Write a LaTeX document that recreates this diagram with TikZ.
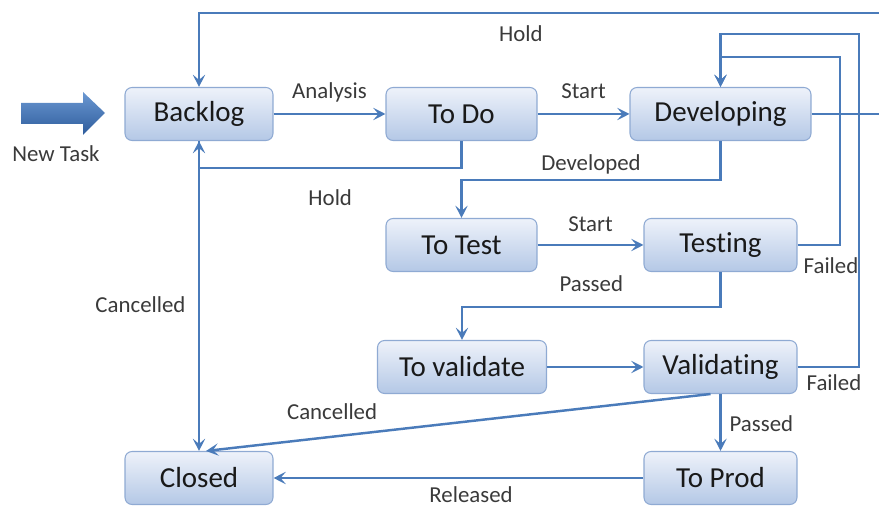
\documentclass[tikz,border=0pt]{standalone}
\usepackage{fontspec}
\setmainfont{Carlito}[Ligatures=NoCommon]
\usetikzlibrary{calc,positioning,arrows.meta}
\definecolor{flowcolor}{HTML}{4A7BBA}
\definecolor{boxtop}{HTML}{EEF2FA}
\definecolor{boxbottom}{HTML}{B4C8E6}
\definecolor{boxborder}{HTML}{8FAAD3}
\definecolor{labelcolor}{HTML}{3A3A3A}
\definecolor{arrowtop}{HTML}{6B98D2}
\definecolor{arrowbottom}{HTML}{2E5C9C}

\begin{document}
\begin{tikzpicture}[x=0.02cm, y=-0.02cm,
    state/.style={draw=boxborder, line width=0.6pt, rounded corners=4pt,
        top color=boxtop, bottom color=boxbottom, minimum height=1.06cm,
        font=\fontsize{16.5}{18}\selectfont, text=black!90},
    flow/.style={line width=1.4pt, color=flowcolor,
        -{Stealth[length=7pt, width=7pt, inset=3pt]}},
    lbl/.style={font=\fontsize{13}{15}\selectfont, text=labelcolor,
        inner sep=0pt, text height=9.5pt, text depth=3pt}]
    \useasboundingbox (0,0) rectangle (879,506);

    % States
    \foreach \nm/\px/\py/\w/\txt in {backlog/199/114/2.96/Backlog,
        todo/461.5/114/3.02/To Do, dev/720.5/114/3.62/Developing,
        totest/461.5/245/3.02/To Test, testing/720.5/245/3.06/Testing,
        toval/462/367/3.38/To validate, validating/720.5/367/3.06/Validating,
        closed/199/478/2.96/Closed, toprod/720.5/478/3.06/To Prod} {
        \node[state, minimum width=\w cm] (\nm) at (\px,\py) {\txt};
    }

    % Incoming task
    \shade[top color=arrowtop, bottom color=arrowbottom]
        (21,103) -- (83,103) -- (83,92) -- (105,113) -- (83,135) -- (83,124) -- (21,124) -- cycle;
    \node[lbl, anchor=base] (newtask) at (56,162) {New Task};

    % Loop corners (the hold loop runs past the right edge)
    \coordinate (holdcorner) at (884,13);
    \coordinate (failA) at (840,57);
    \coordinate (failB) at (859,34);

    % Forward links
    \draw[flow] (backlog) -- node[lbl, above=5pt] {Analysis} (todo);
    \draw[flow] (todo) -- node[lbl, above=5pt] {Start} (dev);
    \draw[flow] (dev.south) -- ++(0,39) -| node[lbl, pos=0.25, above=2pt] {Developed} (totest.north);
    \draw[flow] (totest) -- node[lbl, above=3.8pt] {Start} (testing);
    \draw[flow] (testing.south) -- ++(0,35) -| node[lbl, pos=0.25, above=4.9pt] {Passed} (toval.north);
    \draw[flow] (toval) -- (validating);
    \draw[flow] (validating) -- node[lbl, pos=0.56, right=4.5pt] {Passed} (toprod);
    \draw[flow] (toprod) -- node[lbl, pos=0.466, below=3.5pt] {Released} (closed);

    % Hold and cancel links
    \draw[flow] (dev.east) -| (holdcorner) -| node[lbl, pos=0.265, below=5.8pt] {Hold} (backlog.north);
    \draw[flow] (todo.south) -- ++(0,27) -| node[lbl, pos=0.25, below=11pt] {Hold} (backlog.south);
    \draw[flow] (backlog.south) -- node[lbl, pos=0.535, left=7pt] {Cancelled} (closed.north);
    \draw[flow] ($(validating.south)+(-10,0)$) -- node[lbl, pos=0.75, above=6pt] {Cancelled} ($(closed.north)+(7,0)$);

    % Failed links
    \draw[flow] (testing.east) node[lbl, below right=6.3pt and 2.8pt] {Failed} -| (failA) -| (dev.north);
    \draw[flow] (validating.east) node[lbl, below right=2.9pt and 4.5pt] {Failed} -| (failB) -| (dev.north);
\end{tikzpicture}
\end{document}
